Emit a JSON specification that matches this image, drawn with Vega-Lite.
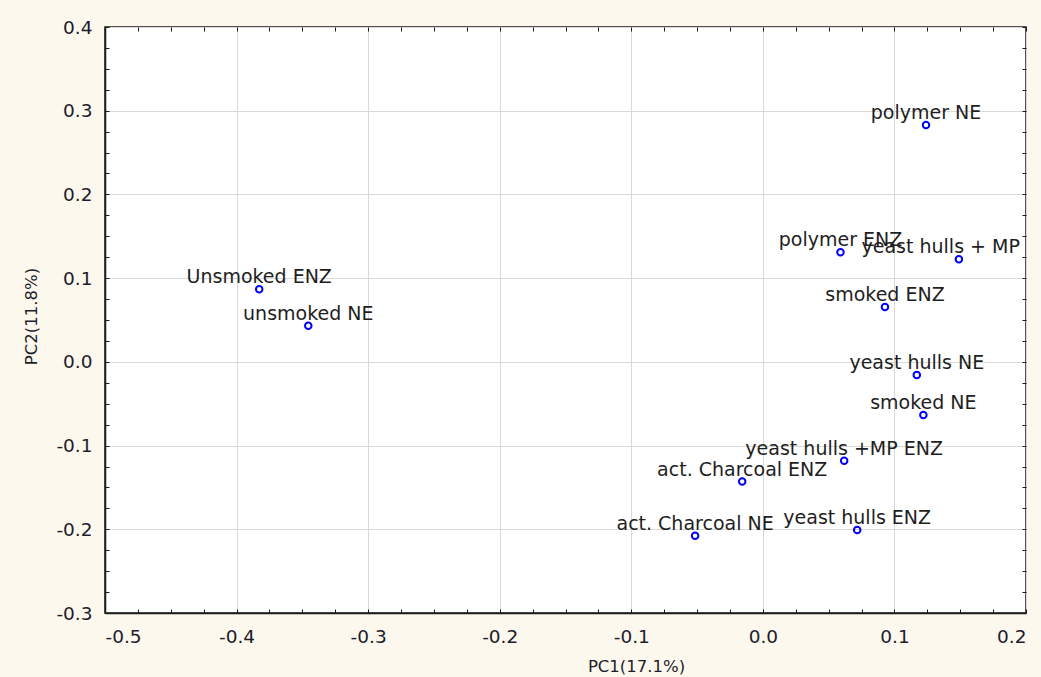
{
  "$schema": "https://vega.github.io/schema/vega-lite/v6.json",
  "width": 921,
  "height": 586,
  "autosize": {"type": "none"},
  "padding": {"left": 105, "top": 27, "right": 15, "bottom": 64},
  "background": "#fdf8ee",
  "data": {
    "values": [
      {"name": "polymer NE", "pc1": 0.124, "pc2": 0.283},
      {"name": "polymer ENZ", "pc1": 0.059, "pc2": 0.131},
      {"name": "yeast hulls + MP", "pc1": 0.149, "pc2": 0.1226},
      {"name": "smoked ENZ", "pc1": 0.0928, "pc2": 0.0656},
      {"name": "yeast hulls NE", "pc1": 0.117, "pc2": -0.0157},
      {"name": "smoked NE", "pc1": 0.122, "pc2": -0.0634},
      {"name": "yeast hulls +MP ENZ", "pc1": 0.0618, "pc2": -0.118},
      {"name": "act. Charcoal ENZ", "pc1": -0.0157, "pc2": -0.143},
      {"name": "act. Charcoal NE", "pc1": -0.0515, "pc2": -0.2076},
      {"name": "yeast hulls ENZ", "pc1": 0.0717, "pc2": -0.2008},
      {"name": "Unsmoked ENZ", "pc1": -0.3828, "pc2": 0.0867},
      {"name": "unsmoked NE", "pc1": -0.3455, "pc2": 0.0432}
    ]
  },
  "resolve": {"axis": {"x": "independent", "y": "independent"}},
  "layer": [
    {
      "mark": {"type": "point", "shape": "circle", "filled": false, "color": "#0000ff", "strokeWidth": 2, "size": 42, "opacity": 1},
      "encoding": {
        "x": {
          "field": "pc1", "type": "quantitative",
          "scale": {"domain": [-0.5, 0.2], "nice": false, "zero": false},
          "axis": {
            "orient": "bottom",
            "title": "PC1(17.1%)",
            "titleX": 531,
            "titleY": 58,
            "titleBaseline": "alphabetic",
            "values": [-0.5, -0.4, -0.3, -0.2, -0.1, 0, 0.1, 0.2],
            "labelExpr": "replace(format(datum.value, '.1f'), '\u2212', '-')",
            "ticks": false,
            "labelPadding": 14,
            "labelBaseline": "top"
          }
        },
        "y": {
          "field": "pc2", "type": "quantitative",
          "scale": {"domain": [-0.3, 0.4], "nice": false, "zero": false},
          "axis": {
            "orient": "left",
            "title": "PC2(11.8%)",
            "titleX": -74,
            "titleY": 289,
            "titleBaseline": "middle",
            "values": [-0.3, -0.2, -0.1, 0, 0.1, 0.2, 0.3, 0.4],
            "labelExpr": "replace(format(datum.value, '.1f'), '\u2212', '-')",
            "ticks": false,
            "labelPadding": 13
          }
        }
      }
    },
    {
      "transform": [{"filter": "datum.name !== 'yeast hulls + MP'"}],
      "mark": {"type": "text", "align": "center", "baseline": "alphabetic", "dy": -6, "font": "DejaVu Sans", "fontSize": 19, "color": "#1e1e1e"},
      "encoding": {
        "x": {
          "field": "pc1", "type": "quantitative",
          "axis": {
            "orient": "top", "title": null, "labels": false, "grid": false, "domain": false,
            "offset": -4, "tickSize": 4,
            "values": [-0.5, -0.475, -0.45, -0.425, -0.4, -0.375, -0.35, -0.325, -0.3, -0.275, -0.25, -0.225, -0.2, -0.175, -0.15, -0.125, -0.1, -0.075, -0.05, -0.025, 0, 0.025, 0.05, 0.075, 0.1, 0.125, 0.15, 0.175, 0.2]
          }
        },
        "y": {
          "field": "pc2", "type": "quantitative",
          "axis": {
            "orient": "right", "title": null, "labels": false, "grid": false, "domain": false,
            "offset": -4, "tickSize": 4,
            "values": [-0.3, -0.275, -0.25, -0.225, -0.2, -0.175, -0.15, -0.125, -0.1, -0.075, -0.05, -0.025, 0, 0.025, 0.05, 0.075, 0.1, 0.125, 0.15, 0.175, 0.2, 0.225, 0.25, 0.275, 0.3, 0.325, 0.35, 0.375, 0.4]
          }
        },
        "text": {"field": "name"}
      }
    },
    {
      "transform": [{"filter": "datum.name === 'yeast hulls + MP'"}],
      "mark": {"type": "text", "align": "right", "baseline": "alphabetic", "dx": 61, "dy": -6, "font": "DejaVu Sans", "fontSize": 19, "color": "#1e1e1e"},
      "encoding": {
        "x": {
          "field": "pc1", "type": "quantitative",
          "axis": {
            "orient": "bottom", "title": null, "labels": false, "grid": false, "domain": false,
            "offset": -4, "tickSize": 4,
            "values": [-0.5, -0.475, -0.45, -0.425, -0.4, -0.375, -0.35, -0.325, -0.3, -0.275, -0.25, -0.225, -0.2, -0.175, -0.15, -0.125, -0.1, -0.075, -0.05, -0.025, 0, 0.025, 0.05, 0.075, 0.1, 0.125, 0.15, 0.175, 0.2]
          }
        },
        "y": {
          "field": "pc2", "type": "quantitative",
          "axis": {
            "orient": "left", "title": null, "labels": false, "grid": false, "domain": false,
            "offset": -4, "tickSize": 4,
            "values": [-0.3, -0.275, -0.25, -0.225, -0.2, -0.175, -0.15, -0.125, -0.1, -0.075, -0.05, -0.025, 0, 0.025, 0.05, 0.075, 0.1, 0.125, 0.15, 0.175, 0.2, 0.225, 0.25, 0.275, 0.3, 0.325, 0.35, 0.375, 0.4]
          }
        },
        "text": {"field": "name"}
      }
    }
  ],
  "config": {
    "view": {"fill": "white", "stroke": "#1a1a1a", "strokeWidth": 1.5},
    "axis": {
      "domainColor": "#1a1a1a",
      "domainWidth": 1.5,
      "tickColor": "#1a1a1a",
      "tickWidth": 1,
      "gridColor": "#d9d9d9",
      "gridWidth": 1,
      "labelFont": "DejaVu Sans",
      "labelFontSize": 18.5,
      "labelColor": "#1c1c2a",
      "titleFont": "DejaVu Sans",
      "titleFontSize": 16.5,
      "titleFontWeight": "normal",
      "titleColor": "#1c1c2a"
    }
  }
}
